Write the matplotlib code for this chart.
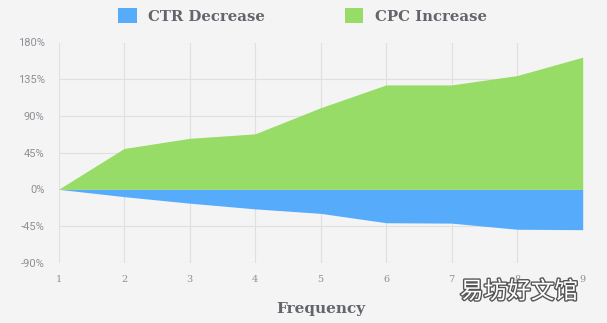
import numpy as np
import matplotlib.pyplot as plt
import matplotlib.patheffects as pe

# values (percent)
frequency = [1, 2, 3, 4, 5, 6, 7, 8, 9]
ctr_decrease = [0, -9, -17, -24, -29.5, -41, -41.5, -49, -49.5]
cpc_increase = [0, 50, 62.5, 68, 100, 128, 128, 139.5, 162]
y_ticks = [-90, -45, 0, 45, 90, 135, 180]

bg = '#f4f4f4'
blue = '#57abfb'
green = '#96dc67'
text_col = '#62666c'
tick_col = '#8c9096'
grid_col = '#e0e0e0'

fig = plt.figure(figsize=(6.07, 3.23), dpi=100, facecolor=bg)
ax = fig.add_axes([58.5 / 607, (323 - 262.7) / 323, (582.7 - 58.5) / 607, (262.7 - 42.5) / 323])
ax.set_facecolor(bg)

ax.fill_between(frequency, ctr_decrease, 0, color=blue, linewidth=0, label='CTR Decrease', zorder=3)
ax.fill_between(frequency, 0, cpc_increase, color=green, linewidth=0, label='CPC Increase', zorder=3)

ax.set_xlim(1, 9)
ax.set_ylim(-90, 180)
ax.set_xticks(frequency)
ax.set_yticks(y_ticks)
ax.set_yticklabels([f'{v}%' for v in y_ticks], fontfamily='Roboto', fontsize=8, color=tick_col)
ax.set_xticklabels([str(v) for v in frequency], fontfamily='DejaVu Serif', fontsize=7, color=tick_col)
ax.tick_params(length=0, pad=9)
ax.tick_params(axis='y', pad=10)
ax.grid(True, color=grid_col, linewidth=0.8, zorder=0)
for s in ax.spines.values():
    s.set_visible(False)

ax.set_xlabel('Frequency', fontfamily='DejaVu Serif', fontweight='bold', fontsize=11,
              color=text_col, labelpad=13)

fig.legend(loc='upper left', bbox_to_anchor=(118 / 607, 1 - 8 / 323), ncol=2, frameon=False,
           prop={'family': 'DejaVu Serif', 'size': 10.7, 'weight': 'bold'}, labelcolor=text_col,
           handlelength=1.25, handleheight=1.2, handletextpad=0.75, columnspacing=5.4,
           borderaxespad=0, borderpad=0)

# watermark
fig.text(519 / 607, 1 - 292 / 323, '易坊好文馆', fontfamily='Noto Sans CJK SC', fontsize=17,
         color='white', ha='center', va='center',
         path_effects=[pe.withStroke(linewidth=2, foreground='#555555')])

fig.savefig('out.png', dpi=100, facecolor=bg)
